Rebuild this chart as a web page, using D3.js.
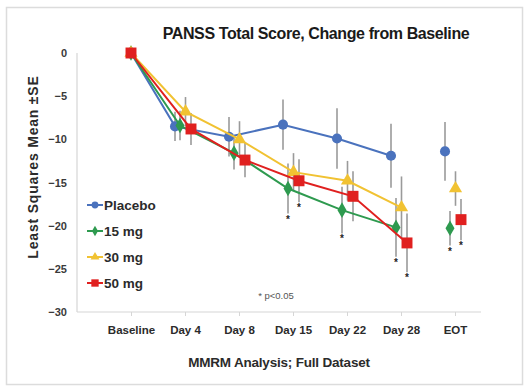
<!DOCTYPE html>
<html>
<head>
<meta charset="utf-8">
<script src="https://cdn.jsdelivr.net/npm/d3@7"></script>
<style>
  html, body { margin: 0; padding: 0; background: #fff; }
  svg { display: block; font-family: "Liberation Sans", Arial, sans-serif; }
</style>
</head>
<body>
<svg id="chart" width="524" height="387"></svg>
<script>
// Visits on the x axis
const categories = ["Baseline", "Day 4", "Day 8", "Day 15", "Day 22", "Day 28", "EOT"];

// LS mean change from baseline per treatment arm
const placebo = [0, -8.5, -9.7, -8.3, -9.9, -11.9, -11.4];
const mg15    = [0, -8.4, -11.6, -15.7, -18.2, -20.2, -20.3];
const mg30    = [0, -6.8, -10.0, -13.8, -14.8, -17.9, -15.7];
const mg50    = [0, -8.8, -12.4, -14.8, -16.6, -22.0, -19.3];

// Standard errors
const placeboSE = [0, 1.7, 2.3, 2.9, 3.5, 3.7, 3.4];
const mg15SE    = [0, 1.7, 1.9, 2.9, 2.7, 3.4, 2.0];
const mg30SE    = [0, 1.7, 2.1, 2.2, 2.3, 3.6, 2.0];
const mg50SE    = [0, 1.85, 2.0, 2.5, 2.9, 3.4, 2.4];

// p<0.05 vs placebo flags
const placeboSig = [0, 0, 0, 0, 0, 0, 0];
const mg15Sig    = [0, 0, 0, 1, 1, 1, 1];
const mg30Sig    = [0, 0, 0, 0, 0, 0, 0];
const mg50Sig    = [0, 0, 0, 1, 0, 1, 1];

const seriesNames = ["Placebo", "15 mg", "30 mg", "50 mg"];
const yTicks = [0, -5, -10, -15, -20, -25, -30];

const series = [
  { name: seriesNames[0], values: placebo, se: placeboSE, sig: placeboSig, color: "#4a72bd", symbol: d3.symbolCircle,   size: 80,  dx: -10 },
  { name: seriesNames[1], values: mg15,    se: mg15SE,    sig: mg15Sig,    color: "#2e9a4f", symbol: d3.symbolDiamond,  size: 70,  dx: -5 },
  { name: seriesNames[2], values: mg30,    se: mg30SE,    sig: mg30Sig,    color: "#f1c232", symbol: d3.symbolTriangle, size: 75,  dx: 0.5 },
  { name: seriesNames[3], values: mg50,    se: mg50SE,    sig: mg50Sig,    color: "#e0201f", symbol: d3.symbolSquare,   size: 120, dx: 6 }
];

const svg = d3.select("#chart");

// outer frame
svg.append("rect")
  .attr("x", 6.5).attr("y", 7.5).attr("width", 516).attr("height", 377)
  .attr("fill", "#fff").attr("stroke", "#dcdcdc").attr("stroke-width", 1.5);

const x = d3.scalePoint().domain(categories).range([131, 455]);
const y = d3.scaleLinear().domain([-30, 0]).range([312, 53]);

const plotLeft = 77, plotRight = 481;

// axis lines
svg.append("line")
  .attr("x1", plotLeft).attr("x2", plotLeft)
  .attr("y1", y(0)).attr("y2", y(-30))
  .attr("stroke", "#d6d6d6").attr("stroke-width", 1.2);
svg.append("line")
  .attr("x1", plotLeft).attr("x2", plotRight)
  .attr("y1", y(-30)).attr("y2", y(-30))
  .attr("stroke", "#d6d6d6").attr("stroke-width", 1.2);

// y axis labels
const yAxis = svg.append("g")
  .attr("transform", `translate(${plotLeft},0)`)
  .call(d3.axisLeft(y).tickValues(yTicks).tickSize(0).tickPadding(10).tickFormat(d3.format("d")));
yAxis.select(".domain").remove();
yAxis.selectAll("text")
  .attr("font-size", 11).attr("font-weight", "bold").attr("fill", "#3a3a3a")
  .style("font-family", "'Liberation Sans', Arial, sans-serif");

// x axis labels and ticks
const xAxis = svg.append("g")
  .attr("transform", `translate(0,${y(-30)})`)
  .call(d3.axisBottom(x).tickSize(4).tickPadding(10));
xAxis.select(".domain").remove();
xAxis.selectAll("line").attr("stroke", "#d6d6d6");
xAxis.selectAll("text")
  .attr("font-size", 11.5).attr("font-weight", "bold").attr("fill", "#2b2b2b")
  .style("font-family", "'Liberation Sans', Arial, sans-serif");

// titles
svg.append("text")
  .attr("x", 316).attr("y", 39)
  .attr("text-anchor", "middle")
  .attr("font-size", 16).attr("font-weight", "bold").attr("fill", "#1a1a1a")
  .attr("letter-spacing", -0.4)
  .text("PANSS Total Score, Change from Baseline");

svg.append("text")
  .attr("x", 279).attr("y", 367)
  .attr("text-anchor", "middle")
  .attr("font-size", 13.5).attr("font-weight", "bold").attr("fill", "#2b2b2b")
  .attr("letter-spacing", -0.2)
  .text("MMRM Analysis; Full Dataset");

svg.append("text")
  .attr("transform", "translate(38,167) rotate(-90)")
  .attr("text-anchor", "middle")
  .attr("font-size", 14).attr("font-weight", "bold").attr("fill", "#2b2b2b")
  .attr("letter-spacing", 0.8)
  .text("Least Squares Mean ±SE");

svg.append("text")
  .attr("x", 276).attr("y", 299)
  .attr("text-anchor", "middle")
  .attr("font-size", 9.5).attr("fill", "#555")
  .text("* p<0.05");

// error bars (behind everything)
const barLayer = svg.append("g");
series.forEach(s => {
  s.values.forEach((v, i) => {
    if (s.se[i] <= 0) return;
    const cx = x(categories[i]) + s.dx;
    barLayer.append("line")
      .attr("x1", cx).attr("x2", cx)
      .attr("y1", y(v + s.se[i])).attr("y2", y(v - s.se[i]))
      .attr("stroke", "#9a9a9a").attr("stroke-width", 1.6);
    if (s.sig[i]) {
      barLayer.append("text")
        .attr("x", cx).attr("y", y(v - s.se[i]) + 9)
        .attr("text-anchor", "middle")
        .attr("font-size", 10).attr("font-weight", "bold").attr("fill", "#222")
        .text("*");
    }
  });
});

// connected lines through Day 28; EOT plotted on its own
series.forEach(s => {
  const g = svg.append("g");
  const pts = s.values.slice(0, 6);
  g.append("path")
    .datum(pts)
    .attr("fill", "none")
    .attr("stroke", s.color)
    .attr("stroke-width", 2)
    .attr("d", d3.line()
      .x((d, i) => x(categories[i]) + (i === 0 ? 0 : s.dx))
      .y(d => y(d)));
  g.selectAll("path.m")
    .data(s.values)
    .join("path")
    .attr("class", "m")
    .attr("transform", (d, i) => `translate(${x(categories[i]) + (i === 0 ? 0 : s.dx)},${y(d)})`)
    .attr("d", d3.symbol().type(s.symbol).size(s.size))
    .attr("fill", s.color);
});

// legend
const legend = svg.append("g");
series.forEach((s, i) => {
  const ly = 205 + i * 26;
  legend.append("line")
    .attr("x1", 87).attr("x2", 103).attr("y1", ly).attr("y2", ly)
    .attr("stroke", s.color).attr("stroke-width", 2);
  legend.append("path")
    .attr("transform", `translate(95,${ly})`)
    .attr("d", d3.symbol().type(s.symbol).size(s.size * 0.45))
    .attr("fill", s.color);
  legend.append("text")
    .attr("x", 104).attr("y", ly + 5)
    .attr("font-size", 13.5).attr("font-weight", "bold").attr("fill", "#2b2b2b")
    .text(s.name);
});
</script>
</body>
</html>
